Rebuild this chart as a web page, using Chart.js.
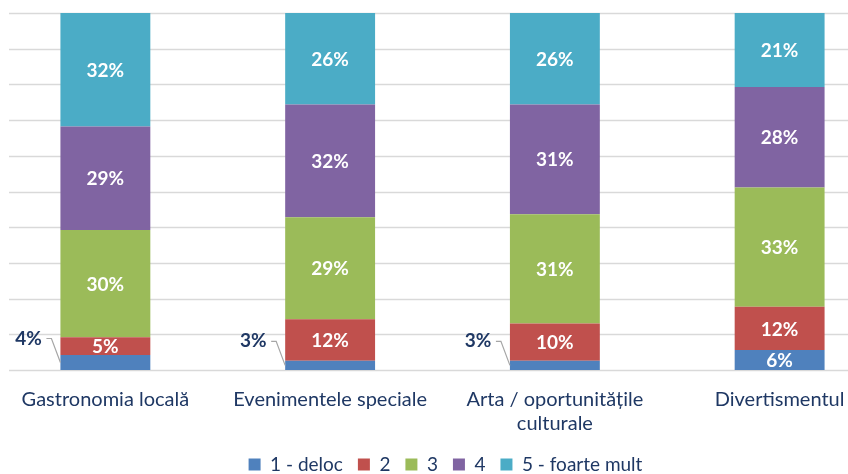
<!DOCTYPE html>
<html>
<head>
<meta charset="utf-8">
<script src="https://cdn.jsdelivr.net/npm/chart.js@4.4.1/dist/chart.umd.min.js"></script>
<style>
html, body { margin: 0; padding: 0; background: #fff; overflow: hidden; width: 848px; height: 474px; }
#wrap { position: absolute; left: -7px; top: 0; width: 905px; height: 484px; }
</style>
</head>
<body>
<div id="wrap"><canvas id="myChart"></canvas></div>
<script>
// data (percent of answers)
var categories = ['Gastronomia locală', 'Evenimentele speciale', ['Arta / oportunitățile', 'culturale'], 'Divertismentul'];
var seriesNames = ['1 - deloc', '2', '3', '4', '5 - foarte mult'];
var deloc = [4.2, 2.6, 2.6, 5.6];
var doi = [5.0, 11.6, 10.4, 12.1];
var trei = [30.0, 28.6, 30.6, 33.4];
var patru = [29.0, 31.6, 30.8, 28.2];
var foarteMult = [31.8, 25.6, 25.6, 20.7];
var yTicks = [0, 10, 20, 30, 40, 50, 60, 70, 80, 90, 100];

var colors = ['#4F81BD', '#C0504D', '#9BBB59', '#8064A2', '#4BACC6'];
var navy = '#1F3864';
var fontFam = 'Lato, "Open Sans", sans-serif';

// horizontal grid lines, starting a little in from the left edge
var gridPlugin = {
    id: 'gridLines',
    beforeDatasetsDraw: function(chart) {
        var ctx = chart.ctx;
        var y = chart.scales.y;
        ctx.save();
        ctx.strokeStyle = '#D9D9D9';
        ctx.lineWidth = 1.3;
        yTicks.forEach(function(t) {
            var py = Math.round(y.getPixelForValue(t)) + 0.5;
            ctx.beginPath();
            ctx.moveTo(16, py);
            ctx.lineTo(chart.width, py);
            ctx.stroke();
        });
        ctx.restore();
    }
};

// value labels on the segments
var labelPlugin = {
    id: 'segLabels',
    afterDatasetsDraw: function(chart) {
        var ctx = chart.ctx;
        ctx.save();
        ctx.textAlign = 'center';
        ctx.textBaseline = 'middle';
        ctx.font = 'bold 19px ' + fontFam;
        chart.data.datasets.forEach(function(ds, di) {
            var meta = chart.getDatasetMeta(di);
            meta.data.forEach(function(bar, i) {
                var v = ds.data[i];
                var txt = Math.round(v) + '%';
                var cy = (bar.y + bar.base) / 2;
                if (v < 4.5) {
                    // small segment: label outside on the left, with a leader line
                    var left = bar.x - bar.width / 2;
                    var lx = left - 32;
                    var ly = cy - 24;
                    ctx.fillStyle = navy;
                    ctx.fillText(txt, lx, ly);
                    ctx.strokeStyle = '#A6A6A6';
                    ctx.lineWidth = 1.2;
                    ctx.beginPath();
                    ctx.moveTo(lx + 18, ly);
                    ctx.lineTo(lx + 23, ly);
                    ctx.lineTo(left, cy);
                    ctx.stroke();
                } else {
                    ctx.fillStyle = '#FFFFFF';
                    ctx.fillText(txt, bar.x, cy + 1);
                }
            });
        });
        ctx.restore();
    }
};

var allSeries = [deloc, doi, trei, patru, foarteMult];
var datasets = allSeries.map(function(d, k) {
    return {
        label: seriesNames[k],
        data: d,
        backgroundColor: colors[k],
        borderWidth: 0,
        barPercentage: 0.4,
        categoryPercentage: 1.0
    };
});

var config = {
    type: 'bar',
    data: { labels: categories, datasets: datasets },
    options: {
        responsive: true,
        maintainAspectRatio: false,
        animation: false,
        layout: { padding: { top: 13, left: 0, right: 0, bottom: 0 } },
        plugins: {
            tooltip: { enabled: false },
            legend: {
                position: 'bottom',
                labels: {
                    boxWidth: 12,
                    boxHeight: 12,
                    padding: 15,
                    color: navy,
                    font: { family: fontFam, size: 19 }
                }
            }
        },
        scales: {
            x: {
                stacked: true,
                grid: { display: false, drawTicks: false },
                border: { display: false },
                ticks: {
                    color: navy,
                    padding: 18,
                    maxRotation: 0,
                    autoSkip: false,
                    font: { family: fontFam, size: 20 }
                },
                afterFit: function(s) { s.height = 70; }
            },
            y: {
                stacked: true,
                position: 'right',
                min: 0,
                max: 100,
                ticks: { display: false, stepSize: 10 },
                grid: { display: false },
                border: { display: false },
                afterFit: function(s) { s.width = 6; }
            }
        }
    },
    plugins: [gridPlugin, labelPlugin]
};

var ctx = document.getElementById('myChart').getContext('2d');
var myChart = new Chart(ctx, config);
</script>
</body>
</html>
